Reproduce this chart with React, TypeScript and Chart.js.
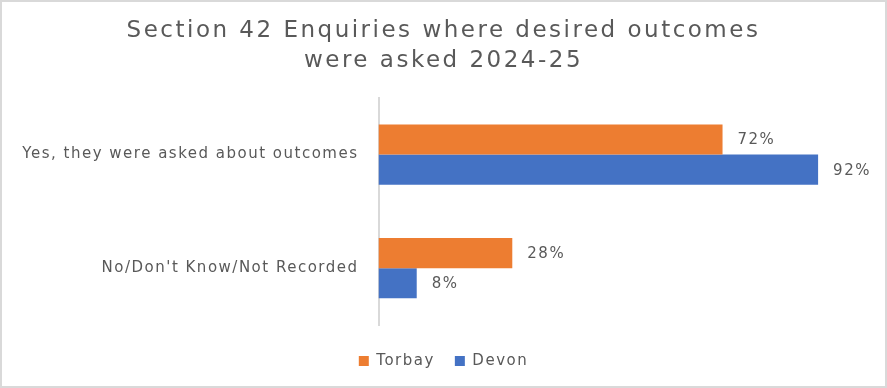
import React, { useEffect, useRef } from "react";
import { Chart, registerables } from "chart.js";

Chart.register(...registerables);

const categories = ["Yes, they were asked about outcomes", "No/Don't Know/Not Recorded"];
const seriesNames = ["Torbay", "Devon"];
const torbayValues = [72, 28];
const devonValues = [92, 8];
const titleLines = ["Section 42 Enquiries where desired outcomes", "were asked 2024-25"];

const FONT = "'DejaVu Sans', sans-serif";
const TEXT = "#595959";
const SPACING = "1.5px";
const TITLE_SPACING = "2.5px";

const spacingPlugin = {
  id: "spacing",
  beforeLayout(chart: any) {
    chart.ctx.letterSpacing = SPACING;
  },
  beforeDraw(chart: any) {
    chart.ctx.letterSpacing = SPACING;
  },
};

const valueLabels = {
  id: "valueLabels",
  afterDatasetsDraw(chart: any) {
    const ctx = chart.ctx;
    ctx.save();
    ctx.letterSpacing = SPACING;
    ctx.font = `15px ${FONT}`;
    ctx.fillStyle = TEXT;
    ctx.textAlign = "left";
    ctx.textBaseline = "middle";
    chart.data.datasets.forEach((ds: any, di: number) => {
      const meta = chart.getDatasetMeta(di);
      meta.data.forEach((bar: any, i: number) => {
        ctx.fillText(`${ds.data[i]}%`, bar.x + 15, bar.y + 1);
      });
    });
    ctx.restore();
  },
};

export default function App() {
  const ref = useRef<HTMLCanvasElement>(null);
  useEffect(() => {
    document.body.style.margin = "0";
    const chart: any = new Chart(ref.current!, {
      type: "bar",
      data: {
        labels: categories,
        datasets: [
          { label: seriesNames[0], data: torbayValues, backgroundColor: "#ED7D31", categoryPercentage: 0.53, barPercentage: 1.0 },
          { label: seriesNames[1], data: devonValues, backgroundColor: "#4472C4", categoryPercentage: 0.53, barPercentage: 1.0 },
        ],
      },
      options: {
        indexAxis: "y",
        animation: false,
        responsive: false,
        layout: { padding: { left: 0, right: 0, top: 0, bottom: 7.5 } },
        scales: {
          x: {
            min: 0,
            max: 106,
            display: true,
            afterFit: (s: any) => { s.height = 8.5; },
            grid: { display: false, drawTicks: false },
            border: { display: false },
            ticks: { display: false },
          },
          y: {
            afterFit: (s: any) => { s.width = 376.5; },
            grid: { display: false, drawTicks: false },
            border: { display: true, color: "#d9d9d9", width: 2 },
            ticks: { color: TEXT, font: { family: FONT, size: 15 }, padding: 20 },
          },
        },
        plugins: {
          title: {
            display: true,
            text: titleLines,
            color: TEXT,
            font: { family: FONT, size: 23, weight: "normal", lineHeight: 1.3 },
            padding: { top: 14, bottom: 22 },
          },
          legend: {
            position: "bottom",
            labels: { color: TEXT, font: { family: FONT, size: 15 }, boxWidth: 10, boxHeight: 10, padding: 20 },
          },
          tooltip: { enabled: false },
        },
      },
      plugins: [spacingPlugin, valueLabels],
    });
    const tb = chart.titleBlock;
    if (tb) {
      const orig = tb.draw.bind(tb);
      tb.draw = (area: any) => {
        const ctx = chart.ctx;
        ctx.save();
        ctx.letterSpacing = TITLE_SPACING;
        orig(area);
        ctx.restore();
      };
      chart.draw();
    }
    return () => chart.destroy();
  }, []);
  return (
    <div style={{ width: 887, height: 388, boxSizing: "border-box", border: "2px solid #d9d9d9", background: "#fff" }}>
      <canvas ref={ref} width={883} height={384} />
    </div>
  );
}
